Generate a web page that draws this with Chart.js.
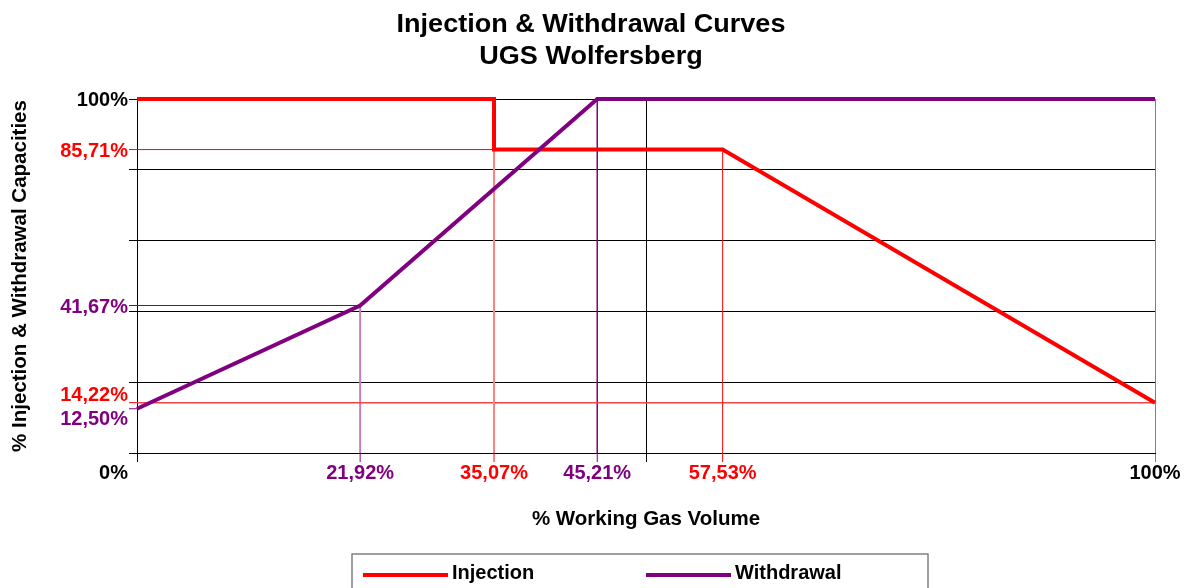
<!DOCTYPE html>
<html>
<head>
<meta charset="utf-8">
<script src="https://cdn.jsdelivr.net/npm/chart.js@4"></script>
<style>
  html, body { margin: 0; padding: 0; background: #fff; }
  #wrap { width: 1190px; height: 588px; }
</style>
</head>
<body>
<div id="wrap"><canvas id="myCanvas" width="1190" height="588"></canvas></div>
<script>
// curve points (% working gas volume -> % capacity)
const injX = [0, 35.07, 35.07, 57.53, 100];
const injY = [100, 100, 85.71, 85.71, 14.22];
const wdrX = [0, 21.92, 45.21, 100];
const wdrY = [12.50, 41.67, 100, 100];

// marked values on the axes
const xMarks = [21.92, 35.07, 45.21, 57.53];
const xMarkLabels = ['21,92%', '35,07%', '45,21%', '57,53%'];
const xMarkSeries = ['wdr', 'inj', 'wdr', 'inj'];
const yMarks = [85.71, 41.67, 14.22, 12.50];
const yMarkLabels = ['85,71%', '41,67%', '14,22%', '12,50%'];
const yMarkSeries = ['inj', 'wdr', 'inj', 'wdr'];

const RED = '#ff0000';
const PURPLE = '#800080';
const seriesColor = { inj: RED, wdr: PURPLE };
const FONT = '"Liberation Sans", Arial, sans-serif';

function pts(xs, ys) {
    return xs.map((x, i) => ({ x: x, y: ys[i] }));
}
function guide(data, color, width) {
    return { data: data, borderColor: color, borderWidth: width, showLine: true,
             pointRadius: 0, fill: false, order: 5, label: '' };
}

const datasets = [
    { label: 'Injection', data: pts(injX, injY), borderColor: RED, backgroundColor: RED,
      borderWidth: 4, showLine: true, pointRadius: 0, order: 1, clip: 6 },
    { label: 'Withdrawal', data: pts(wdrX, wdrY), borderColor: PURPLE, backgroundColor: PURPLE,
      borderWidth: 4, showLine: true, pointRadius: 0, order: 0, clip: 6 },
    // guide lines from the knees of the curves to the axes
    guide([{x: 0, y: injY[2]}, {x: injX[2], y: injY[2]}], RED, 1),
    guide([{x: injX[2], y: 0}, {x: injX[2], y: injY[2]}], '#ff8080', 2),
    guide([{x: injX[3], y: 0}, {x: injX[3], y: injY[3]}], RED, 1),
    guide([{x: 0, y: injY[4]}, {x: injX[4], y: injY[4]}], '#f04646', 1.5),
    guide([{x: 0, y: wdrY[1]}, {x: wdrX[1], y: wdrY[1]}], PURPLE, 1.2),
    guide([{x: wdrX[1], y: 0}, {x: wdrX[1], y: wdrY[1]}], '#c080c0', 2),
    guide([{x: wdrX[2], y: 0}, {x: wdrX[2], y: wdrY[2]}], PURPLE, 1.5)
];

const labelsPlugin = {
    id: 'labelsPlugin',
    afterDraw(chart) {
        const c = chart.ctx;
        const xs = chart.scales.x, ys = chart.scales.y;
        const left = chart.chartArea.left, bottom = chart.chartArea.bottom;
        c.save();
        // colored tick marks for the marked values
        c.lineWidth = 1;
        yMarks.forEach((v, i) => {
            const py = ys.getPixelForValue(v);
            c.strokeStyle = seriesColor[yMarkSeries[i]];
            c.beginPath(); c.moveTo(left - 8, py); c.lineTo(left, py); c.stroke();
        });
        xMarks.forEach((v, i) => {
            const px = xs.getPixelForValue(v);
            c.strokeStyle = seriesColor[xMarkSeries[i]];
            c.beginPath(); c.moveTo(px, bottom); c.lineTo(px, bottom + 9); c.stroke();
        });

        c.font = 'bold 20px ' + FONT;
        c.textBaseline = 'alphabetic';
        // y labels
        c.textAlign = 'right';
        c.fillStyle = '#000';
        c.fillText('100%', left - 9, ys.getPixelForValue(100) + 7);
        c.fillText('0%', left - 9, bottom + 26);
        const yShift = { '14,22%': -9, '12,50%': 9, '41,67%': 1 };
        yMarks.forEach((v, i) => {
            c.fillStyle = seriesColor[yMarkSeries[i]];
            c.fillText(yMarkLabels[i], left - 9, ys.getPixelForValue(v) + 7 + (yShift[yMarkLabels[i]] || 0));
        });
        // x labels
        c.textAlign = 'center';
        xMarks.forEach((v, i) => {
            c.fillStyle = seriesColor[xMarkSeries[i]];
            c.fillText(xMarkLabels[i], xs.getPixelForValue(v), bottom + 26);
        });
        c.fillStyle = '#000';
        c.fillText('100%', xs.getPixelForValue(100), bottom + 26);

        // titles
        c.save();
        c.translate(591, 0);
        c.scale(1.04, 1);
        c.font = 'bold 26px ' + FONT;
        c.fillText('Injection & Withdrawal Curves', 0, 32);
        c.fillText('UGS Wolfersberg', 0, 63.5);
        c.restore();
        c.font = 'bold 20.5px ' + FONT;
        c.fillText('% Working Gas Volume', (xs.left + xs.right) / 2, 524.5);
        c.save();
        c.translate(25.5, (ys.top + ys.bottom) / 2);
        c.rotate(-Math.PI / 2);
        c.fillText('% Injection & Withdrawal Capacities', 0, 0);
        c.restore();

        // legend box
        c.strokeStyle = '#808080';
        c.lineWidth = 1.5;
        c.strokeRect(352, 554, 576, 50);
        c.font = 'bold 20px ' + FONT;
        c.textAlign = 'left';
        const items = [[datasets[0], 363], [datasets[1], 646]];
        items.forEach(([ds, x0]) => {
            c.strokeStyle = ds.borderColor;
            c.lineWidth = 4;
            c.beginPath(); c.moveTo(x0, 575); c.lineTo(x0 + 85, 575); c.stroke();
            c.fillStyle = '#000';
            c.fillText(ds.label, x0 + 89, 579);
        });
        c.restore();
    }
};

function init() {
    const ctx = document.getElementById('myCanvas').getContext('2d');
    new Chart(ctx, {
        type: 'scatter',
        data: { datasets: datasets },
        options: {
            responsive: false,
            animation: false,
            layout: { padding: { left: 0, top: 99, right: 35, bottom: 135 } },
            plugins: { legend: { display: false }, tooltip: { enabled: false }, title: { display: false } },
            elements: { line: { tension: 0 } },
            scales: {
                x: {
                    type: 'linear', min: 0, max: 100,
                    ticks: { display: false, stepSize: 50 },
                    grid: { color: ctx => ctx.tick && ctx.tick.value === 100 ? '#808080' : '#000',
                            lineWidth: 1, tickLength: 9 },
                    border: { color: '#000' },
                    afterFit: s => { s.height = 0; }
                },
                y: {
                    type: 'linear', min: 0, max: 100,
                    ticks: { display: false, stepSize: 20 },
                    grid: { color: '#000', lineWidth: 1, tickLength: 8 },
                    border: { color: '#000' },
                    afterFit: s => { s.width = 137; }
                }
            }
        },
        plugins: [labelsPlugin]
    });
}

document.addEventListener('DOMContentLoaded', init);
</script>
</body>
</html>
